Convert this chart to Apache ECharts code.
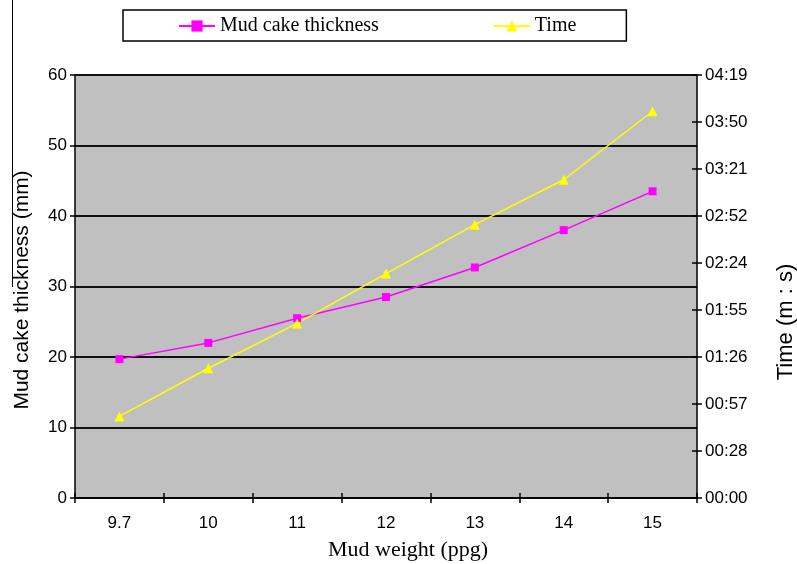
<!DOCTYPE html>
<html>
<head>
<meta charset="utf-8">
<script src="https://cdn.jsdelivr.net/npm/echarts@6/dist/echarts.min.js"></script>
<style>html,body{margin:0;padding:0;background:#fff}#c{width:797px;height:564px}</style>
</head>
<body>
<div id="c"></div>
<script>
// Data
var categories = ['9.7', '10', '11', '12', '13', '14', '15'];
var mudCake = [19.7, 22.0, 25.5, 28.5, 32.7, 38.0, 43.5];      // mm
var timeSec = [50, 79.5, 107, 137.5, 167.5, 195, 237];          // seconds
var timeTicks = ['00:00','00:28','00:57','01:26','01:55','02:24','02:52','03:21','03:50','04:19'];
var timeStep = 28.8;

var chart = echarts.init(document.getElementById('c'), null, {renderer: 'canvas'});
var sans = 'Liberation Sans, Arial, sans-serif';
var serif = 'Liberation Serif, Times New Roman, serif';

chart.setOption({
  animation: false,
  backgroundColor: '#ffffff',
  grid: {left: 75, right: 100, top: 75, bottom: 66, show: true, backgroundColor: '#c0c0c0', borderWidth: 0},
  legend: {
    left: 123, top: 10,
    padding: [6, 50, 5, 55],
    backgroundColor: '#ffffff',
    borderColor: '#000', borderWidth: 1.5,
    itemWidth: 36, itemHeight: 14, itemGap: 114,
    textStyle: {fontFamily: serif, fontSize: 20, color: '#000'},
    data: ['Mud cake thickness', 'Time']
  },
  xAxis: [{
    type: 'category', data: categories, boundaryGap: true,
    axisLine: {lineStyle: {color: '#000', width: 1.5}},
    axisTick: {show: true, length: 5, lineStyle: {color: '#000', width: 1.5}},
    axisLabel: {fontFamily: sans, fontSize: 17, color: '#000', margin: 17}
  }, {
    type: 'category', data: categories, boundaryGap: true, position: 'bottom',
    axisLine: {show: false},
    axisTick: {show: true, inside: true, length: 5, lineStyle: {color: '#000', width: 1.5}},
    axisLabel: {show: false}
  }],
  yAxis: [{
    type: 'value', min: 0, max: 60, interval: 10, position: 'left',
    axisLine: {show: true, lineStyle: {color: '#000', width: 1.5}},
    axisTick: {show: true, length: 5, lineStyle: {color: '#000', width: 1.5}},
    axisLabel: {fontFamily: sans, fontSize: 17, color: '#000', margin: 8},
    splitLine: {show: true, lineStyle: {color: '#111', width: 2}}
  }, {
    type: 'value', min: 0, max: timeStep * 9, interval: timeStep, position: 'right',
    axisLine: {show: true, lineStyle: {color: '#000', width: 1.5}},
    axisTick: {show: true, length: 5, lineStyle: {color: '#000', width: 1.5}},
    axisLabel: {fontFamily: sans, fontSize: 17, color: '#000', margin: 8,
      formatter: function (v) { return timeTicks[Math.round(v / timeStep)] || ''; }},
    splitLine: {show: false}
  }, {
    type: 'value', min: 0, max: timeStep * 9, interval: timeStep, position: 'right',
    axisLine: {show: false},
    axisTick: {show: true, inside: true, length: 5, lineStyle: {color: '#000', width: 1.5}},
    axisLabel: {show: false},
    splitLine: {show: false}
  }],
  series: [{
    name: 'Mud cake thickness', type: 'line', yAxisIndex: 0, data: mudCake,
    symbol: 'rect', symbolSize: 8,
    lineStyle: {color: '#ff00ff', width: 1.5},
    itemStyle: {color: '#ff00ff'}
  }, {
    name: 'Time', type: 'line', yAxisIndex: 1, data: timeSec,
    symbol: 'triangle', symbolSize: 10,
    lineStyle: {color: '#ffff00', width: 1.5},
    itemStyle: {color: '#ffff00'}
  }],
  graphic: [{
    type: 'line', shape: {x1: 12.5, y1: 0, x2: 12.5, y2: 287},
    style: {stroke: '#000', lineWidth: 1}
  }, {
    type: 'text', x: 22, y: 290, rotation: Math.PI / 2,
    style: {text: 'Mud cake thickness (mm)', font: '21px ' + sans, fill: '#000', textAlign: 'center', textVerticalAlign: 'middle'}
  }, {
    type: 'text', x: 786, y: 322, rotation: Math.PI / 2,
    style: {text: 'Time (m : s)', font: '22px ' + sans, fill: '#000', textAlign: 'center', textVerticalAlign: 'middle'}
  }, {
    type: 'text', x: 408, y: 550,
    style: {text: 'Mud weight (ppg)', font: '22px ' + serif, fill: '#000', textAlign: 'center', textVerticalAlign: 'middle'}
  }]
});
</script>
</body>
</html>
